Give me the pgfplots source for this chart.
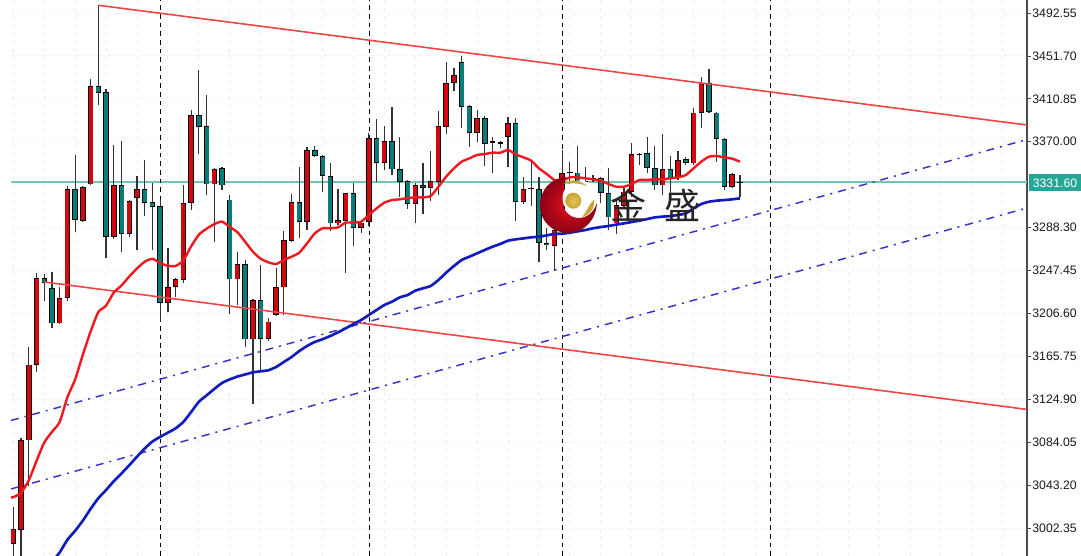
\documentclass[border=0pt]{standalone}
\usepackage{fontspec}
\usepackage{pgfplots}
\usepackage{pgfplotstable}
\pgfplotsset{compat=1.18}
\setmainfont{Liberation Sans}
\newfontfamily\cjk{Noto Sans CJK SC}

\definecolor{candleup}{RGB}{211,8,14}
\definecolor{candledown}{RGB}{10,124,120}
\definecolor{wick}{RGB}{50,50,50}
\definecolor{malred}{RGB}{238,24,30}
\definecolor{mablue}{RGB}{18,28,190}
\definecolor{trendred}{RGB}{236,70,70}
\definecolor{trendblue}{RGB}{52,52,200}
\definecolor{lastline}{RGB}{112,196,182}
\definecolor{lastbox}{RGB}{38,166,150}
\definecolor{gold}{RGB}{200,165,50}
\definecolor{goldhi}{RGB}{225,195,90}
\definecolor{logohi}{RGB}{228,18,30}
\definecolor{logolo}{RGB}{140,0,20}
\definecolor{logotext}{RGB}{40,35,35}

% i open high low close
\pgfplotstableread{
i open high low close
0 2986.8 3022.3 2970 3001.0
1 3000.3 3088.1 2970 3086.4
2 3085.7 3174.2 3042.5 3157.9
3 3157.3 3245.0 3150.5 3240.6
6 3197.1 3231.5 3196.1 3221.4
7 3221.4 3327.7 3218.0 3325.0
9 3295.0 3327.7 3294.0 3326.7
10 3329.4 3430.0 3328.7 3422.9
13 3279.8 3367.2 3277.1 3328.4
15 3282.2 3314.2 3279.8 3313.5
16 3316.9 3337.2 3267.0 3325.0
20 3216.3 3269.3 3207.9 3231.5
21 3231.5 3240.6 3222.1 3239.3
22 3238.3 3328.7 3235.6 3311.8
23 3311.8 3400.3 3305.1 3395.2
26 3329.4 3345.3 3274.7 3343.9
29 3238.9 3265.3 3214.7 3253.5
31 3181.9 3220.4 3120.2 3219.0
33 3182.6 3202.2 3180.2 3198.8
34 3205.1 3250.1 3204.1 3232.0
35 3231.4 3285.4 3205.1 3276.5
36 3275.5 3320.3 3274.6 3312.3
38 3293.9 3364.7 3286.0 3362.1
42 3292.3 3325.0 3290.7 3295.5
43 3294.9 3321.5 3245.4 3320.9
45 3287.6 3295.5 3283.4 3293.0
46 3293.9 3378.6 3289.8 3373.2
48 3350.1 3385.0 3343.1 3371.0
52 3310.7 3330.4 3292.3 3328.8
54 3326.0 3360.9 3313.9 3332.6
55 3331.4 3399.3 3319.3 3385.0
56 3384.4 3446.2 3377.4 3425.6
57 3425.6 3439.9 3418.6 3433.5
60 3378.0 3400.2 3370.1 3392.3
64 3374.2 3393.9 3345.7 3387.5
66 3313.0 3336.8 3310.4 3324.7
70 3271.1 3287.6 3247.3 3286.0
71 3286.0 3362.1 3282.8 3339.9
74 3327.2 3345.6 3322.5 3332.9
78 3292.3 3314.5 3282.2 3309.8
79 3308.8 3325.6 3306.6 3322.5
80 3322.5 3368.5 3317.7 3358.0
84 3328.5 3377.4 3319.3 3344.0
86 3335.5 3361.2 3333.6 3352.9
88 3349.4 3401.8 3347.8 3397.7
89 3397.7 3431.9 3382.8 3425.6
93 3326.6 3339.9 3325.6 3339.0
}\upbars

\pgfplotstableread{
i open high low close
4 3240.6 3244.3 3218.0 3235.6
5 3230.8 3245.7 3192.7 3197.1
8 3325.0 3357.1 3283.8 3295.7
11 3423.2 3499.8 3404.7 3416.5
12 3417.2 3420.5 3259.2 3279.8
14 3328.4 3370.9 3264.6 3282.2
17 3325.0 3353.0 3299.0 3311.8
18 3312.2 3330.8 3267.0 3307.8
19 3308.5 3315.9 3198.4 3216.3
24 3395.2 3438.1 3358.8 3384.4
25 3385.1 3414.8 3319.3 3329.4
27 3345.3 3346.3 3324.0 3328.4
28 3314.9 3319.3 3206.5 3238.9
30 3253.5 3257.5 3174.2 3181.9
32 3219.0 3252.8 3152.2 3182.6
37 3312.3 3346.0 3278.1 3293.9
39 3362.1 3366.0 3355.2 3356.4
40 3356.7 3357.1 3322.5 3337.4
41 3337.7 3349.5 3285.4 3292.3
44 3320.9 3330.4 3270.8 3287.6
47 3373.2 3391.3 3331.4 3350.1
49 3371.0 3402.8 3338.3 3343.7
50 3344.0 3374.8 3317.7 3332.0
51 3332.6 3333.6 3306.3 3310.7
53 3328.8 3349.5 3301.2 3326.0
58 3446.2 3451.6 3382.8 3403.4
59 3404.0 3405.0 3365.3 3378.0
61 3392.3 3394.5 3346.9 3367.9
62 3370.4 3374.8 3339.9 3369.1
63 3369.8 3370.7 3363.7 3368.2
65 3387.5 3392.3 3294.9 3313.0
67 3325.6 3351.0 3309.1 3324.7
68 3325.0 3336.7 3255.5 3273.9
69 3273.9 3287.6 3266.9 3272.0
72 3341.2 3351.0 3328.8 3339.9
73 3340.6 3365.9 3317.7 3324.1
75 3335.2 3338.3 3332.0 3333.9
76 3335.2 3336.7 3311.4 3320.9
77 3320.9 3345.3 3286.0 3298.0
81 3358.3 3359.6 3347.8 3357.4
82 3359.6 3374.8 3339.9 3345.3
83 3345.3 3365.9 3324.1 3328.5
85 3344.0 3356.7 3317.7 3335.5
87 3353.2 3355.8 3347.8 3350.1
90 3425.6 3438.9 3397.7 3398.3
91 3397.7 3398.0 3351.0 3372.3
92 3372.3 3373.2 3324.1 3326.6
94 3332.0 3338.3 3317.7 3331.4
}\downbars

% wick, outline and fill of the candles of one table: table, body low, body high, colour
\newcommand{\candles}[4]{
\addplot[draw=none, forget plot, error bars/.cd, y dir=plus, y explicit, error mark=none,
    error bar style={draw=wick, line width=0.9pt}]
    table[x=i, y=low, y error plus expr=\thisrow{high}-\thisrow{low}] {#1};
\addplot[draw=none, forget plot, error bars/.cd, y dir=plus, y explicit, error mark=none,
    error bar style={draw=black, line width=4.1pt}]
    table[x=i, y=#2, y error plus expr=\thisrow{#3}-\thisrow{#2}] {#1};
\addplot[draw=none, forget plot, error bars/.cd, y dir=plus, y explicit, error mark=none,
    error bar style={draw=#4, line width=3pt}]
    table[x=i, y expr=\thisrow{#2}+0.8, y error plus expr={max(\thisrow{#3}-\thisrow{#2}-1.6,0)}] {#1};
}

\begin{document}
\begin{tikzpicture}
\useasboundingbox (0,0) rectangle (810.75pt,417pt);
\begin{axis}[
    at={(8.25pt,0pt)}, anchor=south west,
    scale only axis,
    width=762pt, height=417pt,
    xmin=-0.3, xmax=131.14,
    ymin=2975.7, ymax=3504.92,
    axis y line*=right,
    axis x line*=bottom,
    x axis line style={draw=none},
    y axis line style={draw=black!70, line width=0.9pt},
    xtick={0,4,...,128},
    xticklabels={},
    ytick={3002.35,3043.20,3084.05,3124.90,3165.75,3206.60,3247.45,3288.30,3370.00,3410.85,3451.70,3492.55},
    /pgf/number format/.cd, fixed, fixed zerofill, precision=2, 1000 sep={}, assume math mode=true,
    /pgfplots/.cd,
    tick align=outside,
    major tick length=3pt,
    x tick style={draw=none},
    y tick style={draw=black!70, line width=0.6pt},
    tick label style={font=\fontsize{9.2}{10}\selectfont, text=black!90},
    yticklabel style={xshift=-2.5pt},
    grid=major,
    major grid style={draw=black!6, dashed, line width=0.7pt},
]
\addplot[lastline, line width=1.5pt, forget plot] coordinates {(-0.3,3331.6) (131.14,3331.6)};

\addplot[black, line width=0.8pt, dash pattern=on 3.5pt off 3pt, forget plot] coordinates {(19,2975.7) (19,3504.92)};
\addplot[black, line width=0.8pt, dash pattern=on 3.5pt off 3pt, forget plot] coordinates {(46.1,2975.7) (46.1,3504.92)};
\addplot[black, line width=0.8pt, dash pattern=on 3.5pt off 3pt, forget plot] coordinates {(71,2975.7) (71,3504.92)};
\addplot[black, line width=0.8pt, dash pattern=on 3.5pt off 3pt, forget plot] coordinates {(98,2975.7) (98,3504.92)};

\candles{\upbars}{open}{close}{candleup}
\candles{\downbars}{close}{open}{candledown}

% channel
\addplot[trendred, line width=1.2pt] coordinates {(11,3499.9) (131.14,3385.9)};
\addplot[trendred, line width=1.2pt] coordinates {(4,3236.5) (131.14,3115.2)};
\addplot[trendblue, line width=1.1pt, dash pattern=on 6pt off 4.5pt on 1.5pt off 4.5pt] coordinates {(-0.3,3104.7) (131.14,3372.1)};
\addplot[trendblue, line width=1.1pt, dash pattern=on 6pt off 4.5pt on 1.5pt off 4.5pt] coordinates {(-0.3,3039.5) (131.14,3306.9)};

% fast average
\addplot[malred, line width=1.8pt, line join=round, smooth, tension=0.35] coordinates {
(-0.3,3031.5) (0,3031.7) (1,3035.8) (2,3047.6) (3,3066.2) (4,3083.7) (5,3093.8) (6,3103.3) (7,3126.9) (8,3143.8)
(9,3167.4) (10,3189.4) (11,3207.9) (12,3214.0) (13,3226.5) (14,3233.2) (15,3241.7) (16,3249.4) (17,3255.8) (18,3258.6)
(19,3254.5) (20,3251.8) (21,3251.8) (22,3256.9) (23,3270.4) (24,3281.5) (25,3287.2) (26,3291.6) (27,3294.0) (28,3288.9)
(29,3283.8) (30,3274.7) (31,3265.3) (32,3258.6) (33,3255.2) (34,3253.6) (35,3257.4) (36,3260.6) (37,3264.4) (38,3273.3)
(39,3282.8) (40,3287.6) (41,3287.6) (42,3288.5) (43,3293.0) (44,3293.0) (45,3293.9) (46,3300.3) (47,3306.6) (48,3312.0)
(49,3314.5) (50,3315.2) (51,3316.4) (52,3317.1) (53,3317.1) (54,3318.3) (55,3327.2) (56,3336.8) (57,3344.7) (58,3351.0)
(59,3354.2) (60,3357.4) (61,3358.3) (62,3359.6) (63,3359.6) (64,3362.1) (65,3358.0) (66,3355.1) (67,3352.0) (68,3344.7)
(69,3339.3) (70,3333.6) (71,3332.9) (72,3336.1) (73,3336.1) (74,3335.2) (75,3334.2) (76,3332.9) (77,3329.8) (78,3327.2)
(79,3327.2) (80,3329.8) (81,3333.6) (82,3333.6) (83,3334.2) (84,3334.2) (85,3335.2) (86,3336.1) (87,3338.3) (88,3344.7)
(89,3351.0) (90,3355.8) (91,3356.4) (92,3355.1) (93,3353.9) (94,3351.0)
};

% slow average
\addplot[mablue, line width=2pt, line join=round, smooth, tension=0.35] coordinates {
(5,2970.0) (6,2979.1) (7,2991.2) (8,2999.7) (9,3009.4) (10,3020.6) (11,3030.7) (12,3038.5) (13,3046.9) (14,3054.3)
(15,3062.1) (16,3070.2) (17,3078.0) (18,3084.7) (19,3089.1) (20,3093.1) (21,3097.2) (22,3103.3) (23,3112.7) (24,3122.5)
(25,3128.6) (26,3134.7) (27,3140.4) (28,3143.8) (29,3146.5) (30,3148.5) (31,3150.5) (32,3151.5) (33,3152.5) (34,3155.6)
(35,3160.4) (36,3165.1) (37,3170.8) (38,3175.6) (39,3179.4) (40,3182.0) (41,3185.1) (42,3188.6) (43,3192.4) (44,3196.5)
(45,3200.3) (46,3205.1) (47,3209.9) (48,3214.6) (49,3217.8) (50,3221.9) (51,3224.1) (52,3228.2) (53,3230.5) (54,3232.7)
(55,3238.4) (56,3245.4) (57,3251.7) (58,3257.4) (59,3260.6) (60,3263.8) (61,3267.0) (62,3270.1) (63,3272.7) (64,3275.8)
(65,3277.1) (66,3278.0) (67,3279.0) (68,3279.6) (69,3280.9) (70,3282.2) (71,3282.5) (72,3283.4) (73,3284.7) (74,3286.0)
(75,3287.6) (76,3288.8) (77,3289.8) (78,3291.1) (79,3292.3) (80,3293.6) (81,3294.9) (82,3296.4) (83,3298.0) (84,3298.7)
(85,3299.3) (86,3300.3) (87,3301.8) (88,3306.6) (89,3310.7) (90,3312.9) (91,3313.9) (92,3314.5) (93,3315.2) (94,3316.1)
};
\end{axis}

% last price box and logo, in reference pixels
\begin{scope}[x=0.75pt, y=-0.75pt, yshift=417pt]
\fill[lastbox] (1029,174) rectangle (1081,191.5);
\node[text=white, font=\fontsize{9.2}{10}\selectfont] at (1055,182.8) {3331.60};

\fill[white] (580,198) circle (17.5);
\shade[inner color=logohi, outer color=logolo]
    (566,177) .. controls (551,178) and (540,190) .. (540,205)
    .. controls (540,222) and (553,233) .. (568,233)
    .. controls (584,233) and (596,220) .. (597,203)
    .. controls (594,212) and (587,218) .. (579,218)
    .. controls (569,218) and (562,210) .. (562,198)
    .. controls (562,190) and (563,183) .. (566,177) -- cycle;
\shade[inner color=goldhi, outer color=gold] (573.3,200.7) circle (8);
\fill[gold] (563.5,184) .. controls (570,178) and (580,180) .. (587,186)
    .. controls (580,183) and (572,183) .. (563.5,184) -- cycle;
\fill[gold] (594,200) .. controls (595,208) and (590,215) .. (582,217)
    .. controls (587,212) and (588,205) .. (594,200) -- cycle;
\node[text=logotext, font=\cjk\fontsize{27}{27}\selectfont] at (628.5,205.5) {金};
\node[text=logotext, font=\cjk\fontsize{27}{27}\selectfont] at (682.5,205.5) {盛};
\end{scope}
\end{tikzpicture}
\end{document}
